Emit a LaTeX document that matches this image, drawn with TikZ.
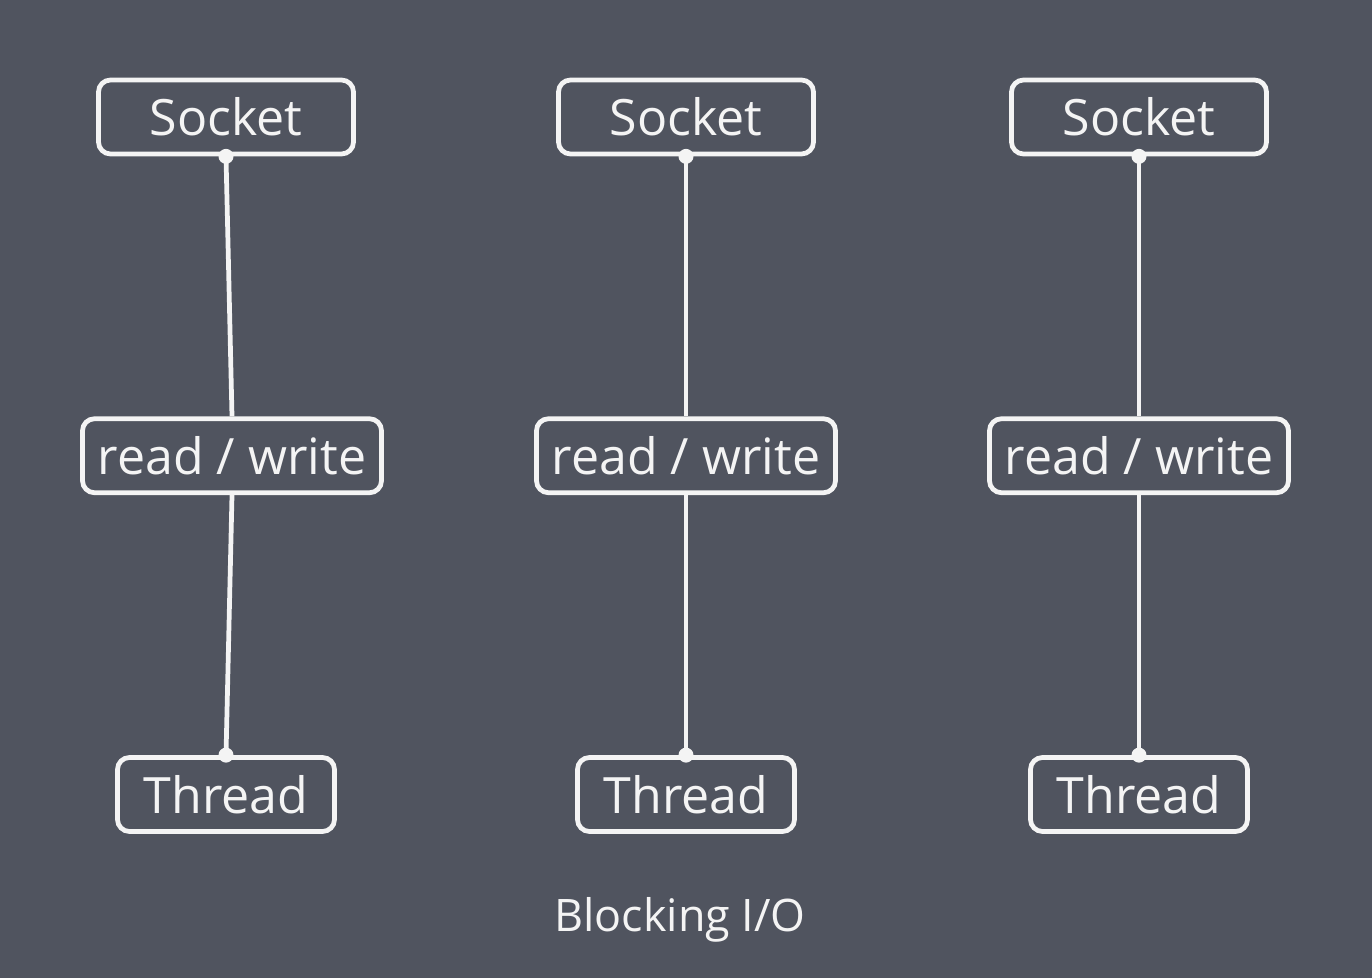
\documentclass[tikz,border=0pt]{standalone}
\usepackage{fontspec}
\setmainfont{Open Sans}
\usetikzlibrary{positioning}
\definecolor{bgcolor}{HTML}{50545F}
\definecolor{fgcolor}{HTML}{F4F4F4}

\begin{document}
\begin{tikzpicture}[node distance=5.2cm, auto,
        % estilo para las cajas
        iobox/.style={
            draw=fgcolor,
            line width=2.7pt,
            rounded corners=0.24cm,
            text=fgcolor,
            minimum height=1.48cm,
            inner sep=0pt,
            font=\fontsize{28.5}{32}\selectfont
        },
        sockbox/.style={iobox, minimum width=5.1cm},
        rwbox/.style={iobox, minimum width=5.98cm},
        thbox/.style={iobox, minimum width=4.34cm},
        joint/.style={circle, fill=fgcolor, inner sep=0pt, minimum size=0.3cm},
        link/.style={draw=fgcolor, line width=2.7pt}
    ]

        % Fondo
        \fill[bgcolor] (0,0) rectangle (27.44,19.56);
        \useasboundingbox (0,0) rectangle (27.44,19.56);

        % Nodes
        \node[sockbox] (sock1) at (4.52,17.22) {Socket};
        \node[rwbox, below=of sock1, xshift=0.12cm] (rw1) {read / write};
        \node[thbox, below=of rw1, xshift=-0.12cm] (th1) {Thread};

        \node[sockbox] (sock2) at (13.72,17.22) {Socket};
        \node[rwbox, below=of sock2] (rw2) {read / write};
        \node[thbox, below=of rw2] (th2) {Thread};

        \node[sockbox] (sock3) at (22.78,17.22) {Socket};
        \node[rwbox, below=of sock3] (rw3) {read / write};
        \node[thbox, below=of rw3] (th3) {Thread};

        \node[text=fgcolor, font=\fontsize{25.5}{30}\selectfont] (caption) at (13.6,1.16) {Blocking I/O};

        % Lines
        \draw[link] (sock1.south) -- (rw1.north);
        \draw[link] (rw1.south) -- (th1.north);
        \draw[link] (sock2.south) -- (rw2.north);
        \draw[link] (rw2.south) -- (th2.north);
        \draw[link] (sock3.south) -- (rw3.north);
        \draw[link] (rw3.south) -- (th3.north);

        % Puntos
        \node[joint] at (sock1.south) {};
        \node[joint] at (th1.north) {};
        \node[joint] at (sock2.south) {};
        \node[joint] at (th2.north) {};
        \node[joint] at (sock3.south) {};
        \node[joint] at (th3.north) {};

    \end{tikzpicture}
\end{document}
